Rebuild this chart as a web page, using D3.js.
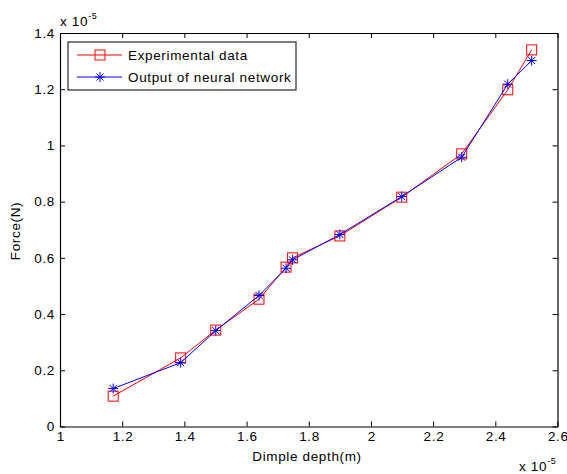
<!DOCTYPE html>
<html>
<head>
<meta charset="utf-8">
<script src="https://cdn.jsdelivr.net/npm/d3@7"></script>
<style>
  body { margin: 0; background: #fff; }
  svg text { font-family: "Liberation Sans", Arial, sans-serif; fill: #000; letter-spacing: 0.65px; }
</style>
</head>
<body>
<div id="chart"></div>
<script>
// dimple depth (x 1e-5 m)
const depth = [1.171, 1.388, 1.501, 1.640, 1.727, 1.748, 1.900, 2.099, 2.292, 2.440, 2.517];
// force (x 1e-5 N)
const experimental = [0.108, 0.244, 0.343, 0.453, 0.567, 0.600, 0.678, 0.816, 0.970, 1.198, 1.340];
const network = [0.135, 0.227, 0.341, 0.466, 0.563, 0.593, 0.683, 0.818, 0.958, 1.218, 1.302];
const xTicks = [1, 1.2, 1.4, 1.6, 1.8, 2, 2.2, 2.4, 2.6];
const yTicks = [0, 0.2, 0.4, 0.6, 0.8, 1, 1.2, 1.4];
const seriesNames = ["Experimental data", "Output of neural network"];

const width = 567, height = 474;
const margin = { left: 60, right: 9.5, top: 33, bottom: 47.5 };
const fontSize = 13.5;

const svg = d3.select("#chart").append("svg")
  .attr("width", width)
  .attr("height", height);

const x = d3.scaleLinear().domain([1, 2.6]).range([margin.left, width - margin.right]);
const y = d3.scaleLinear().domain([0, 1.4]).range([height - margin.bottom, margin.top]);

const fmt = d => String(+d.toFixed(1));

// axes box with inward ticks on all sides
const tickLen = 5;
svg.append("g")
  .attr("transform", `translate(0,${y(0)})`)
  .call(d3.axisBottom(x).tickValues(xTicks).tickFormat(fmt).tickSizeInner(-tickLen).tickSizeOuter(0).tickPadding(5))
  .call(g => g.selectAll("text").attr("font-size", fontSize).attr("dx", "0.3px"));
svg.append("g")
  .attr("transform", `translate(0,${y(1.4)})`)
  .call(d3.axisTop(x).tickValues(xTicks).tickFormat("").tickSizeInner(-tickLen).tickSizeOuter(0));
svg.append("g")
  .attr("transform", `translate(${x(1)},0)`)
  .call(d3.axisLeft(y).tickValues(yTicks).tickFormat(fmt).tickSizeInner(-tickLen).tickSizeOuter(0).tickPadding(5))
  .call(g => g.selectAll("text").attr("font-size", fontSize));
svg.append("g")
  .attr("transform", `translate(${x(2.6)},0)`)
  .call(d3.axisRight(y).tickValues(yTicks).tickFormat("").tickSizeInner(-tickLen).tickSizeOuter(0));

svg.selectAll(".domain").attr("stroke", "#000").attr("stroke-width", 1.2);
svg.selectAll(".tick line").attr("stroke", "#000");
svg.selectAll(".tick text").attr("fill", "#000").attr("font-family", "Liberation Sans, Arial, sans-serif");

// exponent labels
const expo = (gx, gy) => {
  const t = svg.append("text").attr("x", gx).attr("y", gy).attr("font-size", fontSize);
  t.append("tspan").text("x 10");
  t.append("tspan").attr("dy", -7).attr("font-size", 9).text("-5");
};
expo(60, 25.5);
expo(519, 471);

// axis titles
svg.append("text")
  .attr("x", 307)
  .attr("y", 461)
  .attr("text-anchor", "middle")
  .attr("font-size", fontSize)
  .text("Dimple depth(m)");
svg.append("text")
  .attr("transform", `translate(19.5,231) rotate(-90)`)
  .attr("text-anchor", "middle")
  .attr("font-size", fontSize)
  .text("Force(N)");

const line = d3.line().x(d => x(d[0])).y(d => y(d[1]));
const red = depth.map((d, i) => [d, experimental[i]]);
const blue = depth.map((d, i) => [d, network[i]]);

const starPath = s => {
  const r = s / 2, c = r * 0.7;
  return `M${-r},0L${r},0M0,${-r}L0,${r}M${-c},${-c}L${c},${c}M${-c},${c}L${c},${-c}`;
};

svg.append("path").datum(red).attr("d", line)
  .attr("fill", "none").attr("stroke", "#ff0000").attr("stroke-width", 1);
svg.append("g").selectAll("rect").data(red).join("rect")
  .attr("x", d => x(d[0]) - 5).attr("y", d => y(d[1]) - 5)
  .attr("width", 10).attr("height", 10)
  .attr("fill", "none").attr("stroke", "#ff0000").attr("stroke-width", 1);

svg.append("path").datum(blue).attr("d", line)
  .attr("fill", "none").attr("stroke", "#0000ff").attr("stroke-width", 1);
svg.append("g").selectAll("path").data(blue).join("path")
  .attr("transform", d => `translate(${x(d[0])},${y(d[1])})`)
  .attr("d", starPath(10))
  .attr("fill", "none").attr("stroke", "#0000ff").attr("stroke-width", 1);

// legend
const lg = svg.append("g");
lg.append("rect").attr("x", 68).attr("y", 42).attr("width", 228).attr("height", 48)
  .attr("fill", "#fff").attr("stroke", "#000").attr("stroke-width", 1);
const rows = [
  { name: seriesNames[0], color: "#ff0000", y: 55 },
  { name: seriesNames[1], color: "#0000ff", y: 77 }
];
rows.forEach((r, i) => {
  lg.append("line").attr("x1", 77).attr("x2", 122).attr("y1", r.y).attr("y2", r.y)
    .attr("stroke", r.color).attr("stroke-width", 1);
  if (i === 0) {
    lg.append("rect").attr("x", 95).attr("y", r.y - 5).attr("width", 10).attr("height", 10)
      .attr("fill", "none").attr("stroke", r.color);
  } else {
    lg.append("path").attr("transform", `translate(100,${r.y})`).attr("d", starPath(10))
      .attr("fill", "none").attr("stroke", r.color);
  }
  lg.append("text").attr("x", 128).attr("y", r.y + 4.7).attr("font-size", fontSize).text(r.name);
});
</script>
</body>
</html>
